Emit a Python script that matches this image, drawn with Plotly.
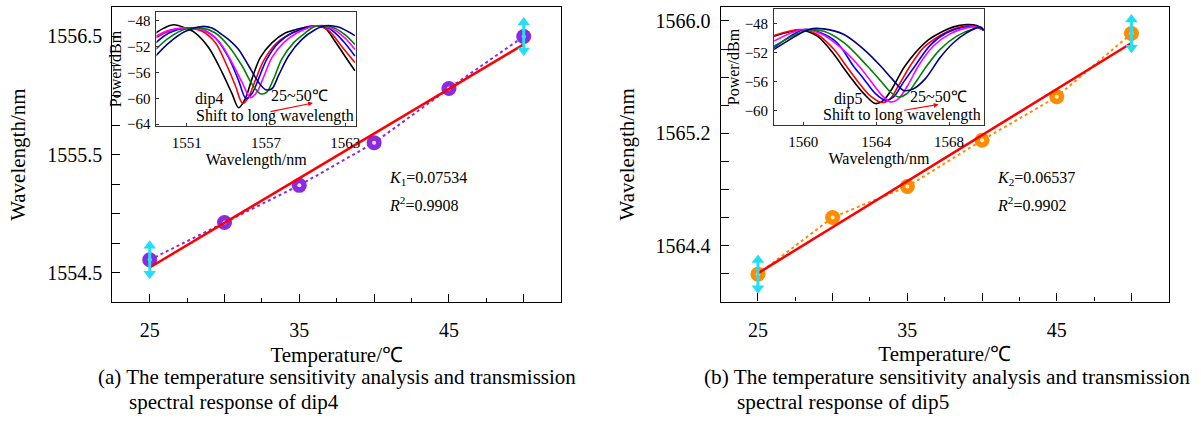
import plotly.graph_objects as go

# ---------------- data ----------------
temperature = [25, 30, 35, 40, 45, 50]
dip4_wl = [1554.61, 1554.925, 1555.24, 1555.60, 1556.06, 1556.50]
dip5_wl = [1564.196, 1564.60, 1564.82, 1565.15, 1565.46, 1565.91]

x_major = [25, 30, 35, 40, 45, 50]
x_major_text = ["25", "", "35", "", "45", ""]
x_minor = [27.5, 32.5, 37.5, 42.5, 47.5]

ya_ticks = [1554.5, 1554.75, 1555.0, 1555.25, 1555.5, 1555.75, 1556.0, 1556.25, 1556.5]
ya_text = ["1554.5", "", "", "", "1555.5", "", "", "", "1556.5"]
yb_ticks = [1564.2, 1564.4, 1564.6, 1564.8, 1565.0, 1565.2, 1565.4, 1565.6, 1565.8, 1566.0]
yb_text = ["", "1564.4", "", "", "", "1565.2", "", "", "", "1566.0"]

# inset (a) spectra, dip4
a_black_x = [1548.64, 1549.26, 1550.02, 1550.9, 1551.65, 1552.66, 1553.67, 1554.42, 1554.92, 1555.43, 1555.93, 1556.56, 1557.44, 1558.45, 1559.7, 1560.71, 1561.47, 1562.22, 1562.97, 1563.73]
a_black_y = [-49.88, -49.12, -48.61, -49.12, -49.88, -52.16, -55.97, -59.27, -61.45, -60.03, -56.98, -53.69, -51.4, -49.88, -49.12, -48.76, -49.12, -51.15, -53.43, -55.72]
a_red_x = [1548.64, 1549.64, 1550.9, 1552.16, 1553.16, 1554.04, 1554.67, 1555.23, 1555.68, 1556.18, 1556.81, 1557.69, 1558.7, 1559.83, 1560.71, 1561.72, 1562.72, 1563.73]
a_red_y = [-50.64, -49.62, -49.12, -49.62, -51.4, -54.95, -58.0, -60.79, -59.78, -57.24, -54.19, -51.65, -50.13, -49.27, -48.76, -49.47, -51.91, -54.45]
a_blue_x = [1548.64, 1549.64, 1550.9, 1552.16, 1553.16, 1554.17, 1554.92, 1555.48, 1555.93, 1556.43, 1557.06, 1557.94, 1558.95, 1559.96, 1560.71, 1561.84, 1562.85, 1563.73]
a_blue_y = [-51.4, -49.88, -49.12, -49.37, -50.64, -53.69, -57.24, -60.03, -59.27, -56.98, -53.93, -51.4, -49.88, -49.12, -48.76, -49.27, -51.15, -53.43]
a_mag_x = [1548.64, 1549.64, 1550.9, 1552.28, 1553.42, 1554.42, 1555.18, 1555.81, 1556.31, 1556.81, 1557.44, 1558.32, 1559.33, 1560.21, 1560.71, 1561.97, 1562.97, 1563.73]
a_mag_y = [-50.39, -49.47, -49.12, -49.47, -51.15, -54.45, -57.49, -59.88, -59.02, -56.73, -53.69, -51.4, -49.88, -49.07, -48.76, -49.17, -50.64, -52.42]
a_green_x = [1548.64, 1549.64, 1550.9, 1552.16, 1553.16, 1554.17, 1555.18, 1555.93, 1556.56, 1557.06, 1557.57, 1558.19, 1559.08, 1559.96, 1560.71, 1561.97, 1562.97, 1563.73]
a_green_y = [-52.42, -50.64, -49.27, -49.12, -49.88, -51.91, -54.95, -57.75, -59.27, -59.02, -56.98, -53.93, -51.4, -49.88, -48.86, -48.96, -50.13, -51.65]
a_navy_x = [1548.64, 1549.64, 1550.9, 1552.16, 1552.91, 1553.67, 1554.17, 1554.92, 1555.68, 1556.43, 1556.94, 1557.44, 1557.94, 1558.7, 1559.7, 1560.71, 1561.47, 1562.47, 1563.73]
a_navy_y = [-53.43, -51.4, -49.62, -48.86, -49.12, -50.13, -50.89, -52.42, -54.95, -57.49, -58.61, -58.51, -56.48, -53.43, -50.89, -49.37, -48.76, -48.96, -50.28]

# inset (b) spectra, dip5
b_black_x = [1558.40, 1559.86, 1560.77, 1561.68, 1562.13, 1562.59, 1563.32, 1563.96, 1564.41, 1564.87, 1565.59, 1566.78, 1567.51, 1568.24, 1568.96, 1569.51, 1569.91]
b_black_y = [-49.73, -48.91, -49.73, -52.23, -53.82, -55.41, -57.68, -59.05, -58.59, -57.0, -53.82, -50.41, -49.27, -48.45, -48.14, -48.27, -48.91]
b_red_x = [1558.40, 1559.86, 1560.77, 1561.68, 1562.35, 1562.95, 1563.68, 1564.32, 1564.78, 1565.23, 1565.87, 1566.6, 1567.51, 1568.24, 1569.15, 1569.91]
b_red_y = [-49.64, -48.82, -49.5, -51.55, -53.82, -55.86, -58.0, -58.91, -58.36, -56.55, -53.82, -51.32, -49.64, -48.73, -48.27, -48.91]
b_blue_x = [1558.40, 1560.04, 1560.95, 1561.86, 1562.74, 1563.32, 1563.96, 1564.50, 1564.96, 1565.50, 1566.14, 1566.96, 1567.87, 1568.78, 1569.51, 1569.91]
b_blue_y = [-51.32, -48.82, -49.27, -50.64, -53.82, -55.64, -57.68, -58.59, -58.14, -56.09, -53.82, -51.0, -49.27, -48.5, -48.45, -48.91]
b_mag_x = [1558.40, 1559.95, 1560.95, 1561.95, 1563.04, 1563.68, 1564.32, 1564.78, 1565.23, 1565.78, 1566.32, 1567.14, 1568.05, 1568.96, 1569.6, 1569.91]
b_mag_y = [-50.41, -48.82, -49.36, -51.09, -53.82, -55.86, -57.91, -58.82, -58.36, -56.32, -53.82, -51.09, -49.41, -48.59, -48.45, -48.91]
b_green_x = [1558.40, 1560.22, 1561.13, 1562.23, 1563.5, 1564.23, 1564.78, 1565.23, 1565.69, 1566.23, 1566.78, 1567.51, 1568.42, 1569.33, 1569.78, 1569.91]
b_green_y = [-51.09, -48.91, -49.05, -50.64, -53.82, -55.86, -57.45, -58.14, -57.68, -55.86, -53.82, -51.55, -49.73, -48.73, -48.59, -48.91]
b_navy_x = [1558.40, 1560.4, 1561.13, 1562.23, 1563.32, 1564.23, 1564.87, 1565.5, 1566.05, 1566.69, 1567.51, 1568.24, 1568.96, 1569.69, 1569.91]
b_navy_y = [-51.55, -48.73, -48.73, -49.5, -51.55, -53.82, -55.64, -57.23, -57.0, -55.64, -52.68, -50.64, -49.27, -48.45, -48.91]

# ---------------- style ----------------
W, H = 1201, 422
FONT = "Liberation Serif, Times New Roman, Times, serif"
PURPLE = "#8a2be2"
ORANGE = "#ff8c00"
CYAN = "#22e0f2"
ARROW_A = 0.165
ARROW_B = 0.14


def px(x):
    return x / W


def py(y):
    return 1 - y / H


def linfit(xs, ys):
    n = len(xs)
    mx = sum(xs) / n
    my = sum(ys) / n
    sxy = sum((a - mx) * (b - my) for a, b in zip(xs, ys))
    sxx = sum((a - mx) ** 2 for a in xs)
    k = sxy / sxx
    return k, my - k * mx


fig = go.Figure()


def main_panel(xa, ya, ys, color, half):
    k, b = linfit(temperature, ys)
    fig.add_trace(go.Scatter(x=temperature, y=ys, mode="lines", xaxis=xa, yaxis=ya,
                             line=dict(color=color, width=2, dash="dot"), showlegend=False))
    fig.add_trace(go.Scatter(x=temperature, y=ys, mode="markers", xaxis=xa, yaxis=ya,
                             marker=dict(size=15, color=color, line=dict(width=0)),
                             showlegend=False))
    fig.add_trace(go.Scatter(x=temperature, y=ys, mode="markers", xaxis=xa, yaxis=ya,
                             marker=dict(size=4, color="white", opacity=0.85, line=dict(width=0)),
                             showlegend=False))
    fx = [temperature[0], temperature[-1]]
    fig.add_trace(go.Scatter(x=fx, y=[k * v + b for v in fx], mode="lines", xaxis=xa, yaxis=ya,
                             line=dict(color="#ff0000", width=2.5), showlegend=False))
    for i in (0, len(temperature) - 1):
        t, v = temperature[i], ys[i]
        fig.add_trace(go.Scatter(x=[t, t], y=[v - half * 0.7, v + half * 0.7], mode="lines",
                                 xaxis=xa, yaxis=ya, line=dict(color=CYAN, width=3), showlegend=False))
        fig.add_trace(go.Scatter(x=[t, t], y=[v + half * 0.72, v - half * 0.72], mode="markers",
                                 xaxis=xa, yaxis=ya,
                                 marker=dict(symbol=["triangle-up", "triangle-down"], size=11, color=CYAN,
                                             line=dict(width=0)),
                                 showlegend=False))


main_panel("x", "y", dip4_wl, PURPLE, ARROW_A)
main_panel("x3", "y3", dip5_wl, ORANGE, ARROW_B)

spec_colors = ["#000000", "#ff0000", "#0000ff", "#ff00ff", "#008000", "#000080"]
a_curves = [(a_black_x, a_black_y), (a_red_x, a_red_y), (a_blue_x, a_blue_y),
            (a_mag_x, a_mag_y), (a_green_x, a_green_y), (a_navy_x, a_navy_y)]
b_curves = [(b_black_x, b_black_y), (b_red_x, b_red_y), (b_blue_x, b_blue_y),
            (b_mag_x, b_mag_y), (b_green_x, b_green_y), (b_navy_x, b_navy_y)]
for (cx, cy), col in zip(a_curves, spec_colors):
    fig.add_trace(go.Scatter(x=cx, y=cy, mode="lines", xaxis="x2", yaxis="y2",
                             line=dict(color=col, width=1.6, shape="spline", smoothing=0.9), showlegend=False))
for (cx, cy), col in zip(b_curves, spec_colors):
    fig.add_trace(go.Scatter(x=cx, y=cy, mode="lines", xaxis="x4", yaxis="y4",
                             line=dict(color=col, width=1.6, shape="spline", smoothing=0.9), showlegend=False))

main_axis = dict(showline=True, mirror=True, linecolor="black", linewidth=1.3, showgrid=False,
                 zeroline=False, ticks="inside", tickcolor="black", ticklen=8, tickwidth=1.2,
                 tickfont=dict(size=20, family=FONT, color="black"))
inset_axis = dict(showline=True, mirror=True, linecolor="#333333", linewidth=1, showgrid=False,
                  zeroline=False, ticks="inside", tickcolor="#333333", ticklen=3, tickwidth=1,
                  tickfont=dict(size=15, family=FONT, color="black"))

fig.update_layout(
    width=W, height=H, margin=dict(l=0, r=0, t=0, b=0),
    paper_bgcolor="white", plot_bgcolor="white",
    font=dict(family=FONT, color="black"),
    xaxis=dict(main_axis, domain=[px(112.7), px(563)], range=[22.5, 52.5], anchor="y",
               tickmode="array", tickvals=x_major, ticktext=x_major_text, ticklabelstandoff=10,
               minor=dict(tickmode="array", tickvals=x_minor, ticks="inside", ticklen=4, tickcolor="black"),
               title=dict(text="Temperature/℃", font=dict(size=21), standoff=6)),
    yaxis=dict(main_axis, domain=[py(306.7), py(7)], range=[1554.25, 1556.75], anchor="x",
               tickmode="array", tickvals=ya_ticks, ticktext=ya_text, ticklabelstandoff=5,
               title=dict(text="Wavelength/nm", font=dict(size=21), standoff=15)),
    xaxis3=dict(main_axis, domain=[px(723), px(1172.7)], range=[22.5, 52.5], anchor="y3",
                tickmode="array", tickvals=x_major, ticktext=x_major_text, ticklabelstandoff=10,
                minor=dict(tickmode="array", tickvals=x_minor, ticks="inside", ticklen=4, tickcolor="black"),
                title=dict(text="Temperature/℃", font=dict(size=21), standoff=6)),
    yaxis3=dict(main_axis, domain=[py(306), py(7)], range=[1564.0, 1566.1], anchor="x3",
                tickmode="array", tickvals=yb_ticks, ticktext=yb_text, ticklabelstandoff=5,
                title=dict(text="Wavelength/nm", font=dict(size=21), standoff=15)),
    xaxis2=dict(inset_axis, domain=[px(157), px(357)], range=[1548.7, 1563.8], anchor="y2",
                tickmode="array", tickvals=[1551, 1557, 1563], ticklabelstandoff=3,
                title=dict(text="Wavelength/nm", font=dict(size=16), standoff=2)),
    yaxis2=dict(inset_axis, domain=[py(128), py(12)], range=[-64.3, -46.6], anchor="x2",
                tickmode="array", tickvals=[-64, -60, -56, -52, -48], ticklabelstandoff=2,
                title=dict(text="Power/dBm", font=dict(size=16), standoff=1)),
    xaxis4=dict(inset_axis, domain=[px(776.7), px(987)], range=[1558.4, 1569.9], anchor="y4",
                tickmode="array", tickvals=[1560, 1564, 1568], ticklabelstandoff=3,
                title=dict(text="Wavelength/nm", font=dict(size=16), standoff=2)),
    yaxis4=dict(inset_axis, domain=[py(126.7), py(9.3)], range=[-62, -46], anchor="x4",
                tickmode="array", tickvals=[-60, -56, -52, -48], ticklabelstandoff=2,
                title=dict(text="Power/dBm", font=dict(size=16), standoff=1)),
)

ann = []


def text(x, y, s, size, anchor="center"):
    ann.append(dict(x=px(x), y=py(y), xref="paper", yref="paper", text=s, showarrow=False,
                    xanchor=anchor, yanchor="middle", font=dict(size=size, family=FONT, color="black")))


text(210, 100, "dip4", 16)
text(300, 97, "25~50℃", 16)
text(276, 118, "Shift to long wavelength", 16)
text(851, 100, "dip5", 16)
text(942, 98, "25~50℃", 16)
text(905, 117, "Shift to long wavelength", 16)
text(388, 181, "<i>K</i><sub>1</sub>=0.07534", 16, "left")
text(388, 207, "<i>R</i><sup>2</sup>=0.9908", 16, "left")
text(998, 181, "<i>K</i><sub>2</sub>=0.06537", 16, "left")
text(998, 207, "<i>R</i><sup>2</sup>=0.9902", 16, "left")
text(96, 382, "(a) The temperature sensitivity analysis and transmission", 21, "left")
text(127, 408, "spectral response of dip4", 21, "left")
text(704, 382, "(b) The temperature sensitivity analysis and transmission", 21.3, "left")
text(737, 408, "spectral response of dip5", 21.3, "left")

for hx, hy, dx, dy in [(314, 104.5, -44, 9), (941.7, 106, -36, 6)]:
    ann.append(dict(x=px(hx), y=py(hy), xref="paper", yref="paper", text="", showarrow=True,
                    ax=dx, ay=dy, axref="pixel", ayref="pixel", arrowhead=2, arrowsize=0.8,
                    arrowwidth=1.2, arrowcolor="#ff0000"))

fig.update_layout(annotations=ann)
fig.write_html("out.html", config={"displayModeBar": False},
               post_script="document.body.style.margin='0';document.body.style.overflow='hidden';")
